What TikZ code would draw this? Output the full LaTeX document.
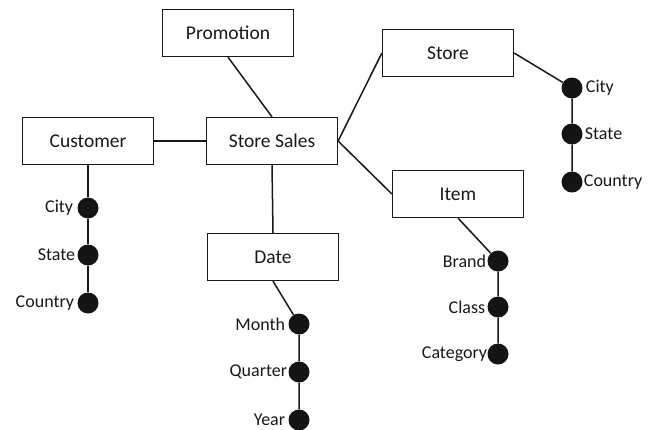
\documentclass[tikz,border=0pt]{standalone}
\usepackage{fontspec}
\setmainfont{Carlito}
\begin{document}
\begin{tikzpicture}[x=1pt,y=-1pt,
  ent/.style={draw=black!90,line width=1.2pt,minimum width=131pt,minimum height=47pt,inner sep=0pt,font=\fontsize{19.5}{21}\selectfont,text=black!90},
  lvl/.style={circle,fill=black!92,draw=none,minimum size=21pt,inner sep=0pt},
  lbl/.style={inner sep=0pt,font=\fontsize{18}{20}\selectfont,text=black!90},
  link/.style={draw=black!90,line width=1.5pt}]
\useasboundingbox[fill=white] (0,0) rectangle (653,429);

% dimension and fact tables
\node[ent] (promo) at (228,33) {Promotion};
\node[ent] (sales) at (272,141) {Store Sales};
\node[ent] (cust) at (88,141) {Customer};
\node[ent] (store) at (448,53) {Store};
\node[ent] (item) at (458,194) {Item};
\node[ent] (date) at (273,257) {Date};

% hierarchy levels
\node[lvl] (ccity) at (88,208) {};
\node[lvl] (cstate) at (88,255) {};
\node[lvl] (ccountry) at (88,303) {};
\node[lvl] (month) at (299,324) {};
\node[lvl] (quarter) at (299,372) {};
\node[lvl] (year) at (299,420) {};
\node[lvl] (scity) at (572,88) {};
\node[lvl] (sstate) at (572,134) {};
\node[lvl] (scountry) at (572,182) {};
\node[lvl] (brand) at (498,261) {};
\node[lvl] (class) at (498,307) {};
\node[lvl] (category) at (498,354) {};

% level labels
\node[lbl,anchor=east] (lccity) at ([xshift=-4pt]ccity.west) {City};
\node[lbl,anchor=east] (lcstate) at ([xshift=-2pt]cstate.west) {State};
\node[lbl,anchor=east] (lccountry) at ([xshift=-3pt]ccountry.west) {Country};
\node[lbl,anchor=east] (lmonth) at ([xshift=-3pt]month.west) {Month};
\node[lbl,anchor=east] (lquarter) at ([xshift=-1pt]quarter.west) {Quarter};
\node[lbl,anchor=east] (lyear) at ([xshift=-3pt]year.west) {Year};
\node[lbl,anchor=west] (lscity) at ([xshift=3pt]scity.east) {City};
\node[lbl,anchor=west] (lsstate) at ([xshift=2pt]sstate.east) {State};
\node[lbl,anchor=west] (lscountry) at ([xshift=1pt]scountry.east) {Country};
\node[lbl,anchor=east] (lbrand) at ([xshift=-1pt]brand.west) {Brand};
\node[lbl,anchor=east] (lclass) at ([xshift=-2pt]class.west) {Class};
\node[lbl,anchor=east] (lcategory) at ([xshift=0pt]category.west) {Category};

% star connections
\draw[link] (promo.south) -- (sales.north);
\draw[link] (cust.east) -- (sales.west);
\draw[link] (sales.east) -- (store.west);
\draw[link] (sales.east) -- (item.west);
\draw[link] (sales.south) -- (date.north);

% hierarchies
\draw[link] (cust.south) -- (ccity) -- (cstate) -- (ccountry);
\draw[link] (date.south) -- (month) -- (quarter) -- (year);
\draw[link] (store.east) -- (scity) -- (sstate) -- (scountry);
\draw[link] (item.south) -- (brand) -- (class) -- (category);
\end{tikzpicture}
\end{document}
